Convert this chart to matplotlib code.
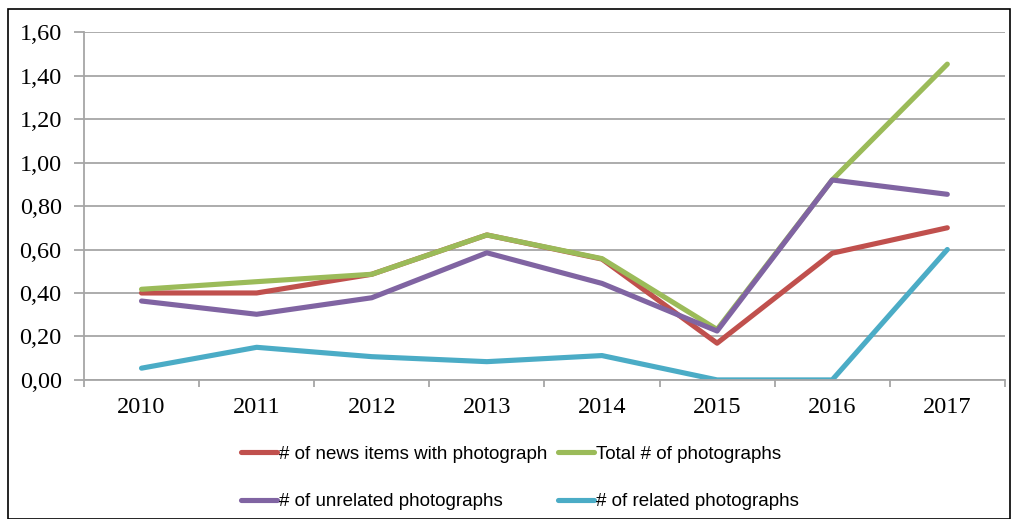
import matplotlib.pyplot as plt
from matplotlib.patches import Rectangle
from matplotlib.ticker import FuncFormatter

years = ['2010', '2011', '2012', '2013', '2014', '2015', '2016', '2017']
news_with_photo = [0.40, 0.40, 0.486, 0.667, 0.556, 0.169, 0.583, 0.70]
total_photos = [0.417, 0.452, 0.486, 0.667, 0.558, 0.232, 0.92, 1.453]
unrelated_photos = [0.363, 0.302, 0.378, 0.585, 0.444, 0.225, 0.92, 0.854]
related_photos = [0.054, 0.150, 0.107, 0.084, 0.112, 0.0, 0.0, 0.60]

fig = plt.figure(figsize=(10.14, 5.19), dpi=100)
ax = fig.add_axes([0.0828, 0.268, 0.9082, 0.670])

x = range(len(years))
lw = 3.7
ax.plot(x, news_with_photo, color='#C0504D', lw=lw, label='# of news items with photograph', solid_capstyle='round')
ax.plot(x, total_photos, color='#9BBB59', lw=lw, label='Total # of photographs', solid_capstyle='round')
ax.plot(x, unrelated_photos, color='#8064A2', lw=lw, label='# of unrelated photographs', solid_capstyle='round')
ax.plot(x, related_photos, color='#4BACC6', lw=lw, label='# of related photographs', solid_capstyle='round')

ax.set_xlim(-0.5, len(years) - 0.5)
ax.set_ylim(0, 1.6)
ax.set_yticks([i * 0.2 for i in range(9)])
ax.yaxis.set_major_formatter(FuncFormatter(lambda v, p: f'{v:.2f}'.replace('.', ',')))
ax.grid(axis='y', color='#a6a6a6', lw=1.3)
ax.set_axisbelow(True)

ax.set_xticks([i - 0.5 for i in range(len(years) + 1)])
ax.set_xticklabels([])
ax.set_xticks(list(x), minor=True)
ax.set_xticklabels(years, minor=True)
ax.tick_params(axis='x', which='major', length=5, color='#a6a6a6', width=1.3)
ax.tick_params(axis='x', which='minor', length=0, pad=12)
ax.tick_params(axis='y', length=7, color='#a6a6a6', width=1.3, pad=9)

for lab in ax.get_xticklabels(minor=True) + ax.get_yticklabels():
    lab.set_fontfamily('Liberation Serif')
    lab.set_fontsize(17.5)

for s in ['top', 'right']:
    ax.spines[s].set_visible(False)
for s in ['left', 'bottom']:
    ax.spines[s].set_color('#a6a6a6')
    ax.spines[s].set_linewidth(1.3)

h, l = ax.get_legend_handles_labels()
order = [0, 2, 1, 3]
fig.legend([h[i] for i in order], [l[i] for i in order], ncol=2, loc='upper left',
           bbox_to_anchor=(0.238, 0.141), frameon=False,
           prop={'family': 'Liberation Sans', 'size': 13.5},
           handlelength=1.9, handletextpad=0.1, columnspacing=0.6,
           labelspacing=1.6, borderaxespad=0, borderpad=0)

fig.patches.append(Rectangle((8 / 1014, 0), 1002 / 1014, 1 - 9 / 519,
                             transform=fig.transFigure, fill=False, edgecolor='black', lw=1.2))

fig.savefig('out.png', dpi=100)
